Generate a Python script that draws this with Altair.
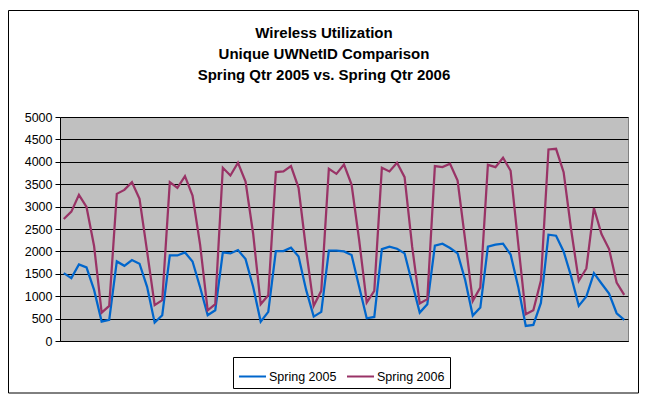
import altair as alt
import pandas as pd

series_names = ["Spring 2005", "Spring 2006"]
series_colors = ["#0066CC", "#993366"]
y_ticks = [0, 500, 1000, 1500, 2000, 2500, 3000, 3500, 4000, 4500, 5000]
title_lines = ["Wireless Utilization", "Unique UWNetID Comparison", "Spring Qtr 2005 vs. Spring Qtr 2006"]

day = list(range(75))

spring_2005 = [
    1515, 1403, 1709, 1642, 1140, 433, 470,
    1776, 1679, 1806, 1724, 1210, 410, 575,
    1910, 1910, 1977, 1776, 1200, 575, 686,
    1977, 1955, 2030, 1828, 1210, 433, 649,
    2007, 2007, 2082, 1888, 1140, 545, 649,
    2015, 2015, 2000, 1920, 1210, 507, 537,
    2052, 2104, 2060, 1955, 1287, 634, 821,
    2127, 2172, 2075, 1955, 1362, 567, 746,
    2104, 2149, 2172, 1930, 1213, 336, 358,
    850, 2373, 2351, 2000, 1436, 784, 993,
    1515, 1284, 1060, 619, 470,
]

spring_2006 = [
    2724, 2888, 3261, 2993, 2120, 634, 784,
    3284, 3373, 3545, 3172, 2000, 799, 910,
    3545, 3418, 3679, 3246, 2150, 686, 821,
    3866, 3694, 3978, 3560, 2400, 821, 1022,
    3769, 3784, 3903, 3418, 2031, 784, 1119,
    3843, 3731, 3940, 3490, 2254, 858, 1119,
    3866, 3784, 3978, 3657, 2106, 836, 933,
    3903, 3881, 3955, 3582, 2254, 895, 1194,
    3933, 3881, 4090, 3800, 2180, 597, 686,
    1350, 4276, 4290, 3769, 2478, 1343, 1619,
    2970, 2388, 2052, 1306, 1030,
]

df = pd.DataFrame({
    "day": day + day,
    "users": spring_2005 + spring_2006,
    "series": [series_names[0]] * len(day) + [series_names[1]] * len(day),
})

FONT = "Liberation Sans"
W, H = 568, 224

lines = alt.Chart(df).mark_line(strokeWidth=2.25).encode(
    x=alt.X("day:Q",
            scale=alt.Scale(domain=[-0.5, 74.5], nice=False, zero=False),
            axis=alt.Axis(title=None, labels=False, ticks=False, grid=False,
                          domainColor="black", domainWidth=1)),
    y=alt.Y("users:Q",
            scale=alt.Scale(domain=[0, 5000], nice=False),
            axis=alt.Axis(title=None, values=y_ticks, grid=True, format="d",
                          gridColor="black", gridWidth=1, gridOpacity=1,
                          domainColor="black", domainWidth=1,
                          tickColor="black", tickSize=5, tickWidth=1,
                          labelColor="black", labelFont=FONT, labelFontSize=12.5,
                          labelPadding=3)),
    color=alt.Color("series:N",
                    scale=alt.Scale(domain=series_names, range=series_colors),
                    legend=alt.Legend(title=None, orient="none", direction="horizontal",
                                      legendX=173, legendY=240,
                                      symbolType="stroke", symbolSize=729,
                                      symbolStrokeWidth=2, labelOffset=2,
                                      columnPadding=6, padding=5,
                                      strokeColor="black", fillColor="white",
                                      labelFont=FONT, labelFontSize=12.5,
                                      labelColor="black")),
)

frame = alt.Chart(pd.DataFrame({"k": [0]})).mark_rect(
    fill=None, stroke="black", strokeWidth=1, clip=False
).encode(
    x=alt.value(-51.5), x2=alt.value(578.5),
    y=alt.value(-106.5), y2=alt.value(276),
)

title = alt.Chart(pd.DataFrame({"k": [0]})).mark_text(
    text=title_lines, font=FONT, fontSize=15, fontWeight="bold", color="black",
    align="center", baseline="alphabetic", lineHeight=21, clip=False,
).encode(
    x=alt.value(264), y=alt.value(-79.5),
)

chart = alt.layer(frame, title, lines).properties(
    width=W, height=H,
    autosize=alt.AutoSizeParams(type="none"),
    padding={"left": 52, "top": 109, "right": 12, "bottom": 54},
).configure(
    background="white",
).configure_view(
    fill="#C0C0C0", stroke="#808080", strokeWidth=1,
)

chart.save("out.html", embed_options={"renderer": "svg", "actions": False})
